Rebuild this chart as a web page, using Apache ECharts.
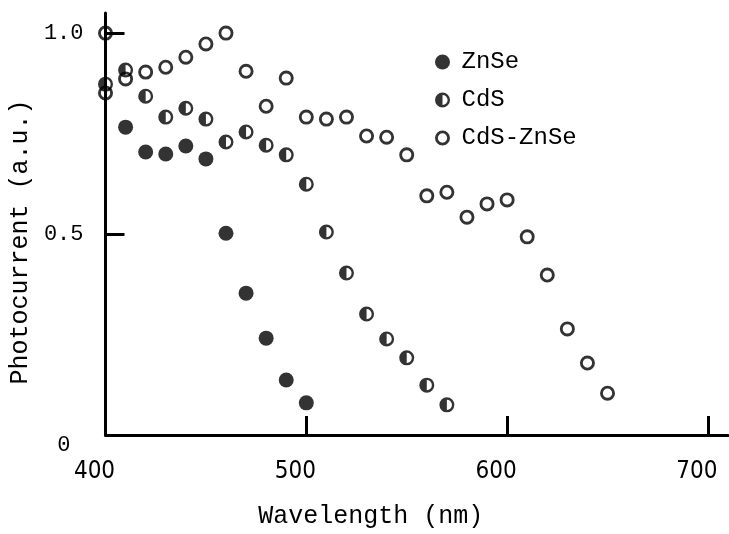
<!DOCTYPE html>
<html>
<head>
<meta charset="utf-8">
<title>Photocurrent spectra</title>
<script src="https://cdn.jsdelivr.net/npm/echarts@6/dist/echarts.min.js"></script>
<style>
  html, body { margin: 0; padding: 0; background: #fff; }
  #chart { width: 729px; height: 534px; }
</style>
</head>
<body>
<div id="chart"></div>
<script>
// wavelengths (nm) and photocurrent (a.u.)
const znseWavelength = [410, 420, 430, 440, 450, 460, 470, 480, 490, 500]
const znseValues = [0.766, 0.704, 0.699, 0.719, 0.687, 0.502, 0.353, 0.241, 0.137, 0.080]

const cdsWavelength = [400, 410, 420, 430, 440, 450, 460, 470, 480, 490, 500, 510, 520, 530, 540, 550, 560, 570]
const cdsValues = [0.873, 0.908, 0.843, 0.791, 0.813, 0.786, 0.729, 0.754, 0.721, 0.697, 0.624, 0.505, 0.403, 0.301, 0.239, 0.192, 0.124, 0.075]

const cdsZnseWavelength = [400, 400, 410, 420, 430, 440, 450, 460, 470, 480, 490, 500, 510, 520, 530, 540, 550, 560, 570, 580, 590, 600, 610, 620, 630, 640, 650]
const cdsZnseValues = [1.0, 0.851, 0.886, 0.903, 0.915, 0.940, 0.973, 1.0, 0.905, 0.818, 0.888, 0.791, 0.786, 0.791, 0.744, 0.741, 0.697, 0.595, 0.604, 0.542, 0.575, 0.585, 0.493, 0.398, 0.264, 0.179, 0.104]

const seriesNames = ['ZnSe', 'CdS', 'CdS-ZnSe']
const xTicks = [500, 600, 700]
const xLabels = [400, 500, 600, 700]
const yTicks = [0.5, 1.0]
const yLabels = [0, 0.5, 1.0]

// ring and half-filled ring markers
const ringPath = 'path://M10,0A10,10 0 1,1 10,20A10,10 0 1,1 10,0Z' +
  'M10,3.8A6.2,6.2 0 1,0 10,16.2A6.2,6.2 0 1,0 10,3.8Z'
const halfPath = 'path://M10,0A10,10 0 1,1 10,20A10,10 0 1,1 10,0Z' +
  'M10,3.2A6.8,6.8 0 1,0 10,16.8A6.8,6.8 0 1,0 10,3.2Z' +
  'M10,3.2A6.8,6.8 0 0,0 10,16.8Z'

const pairs = (xs, ys) => xs.map((x, i) => [x, ys[i]])

const mono = 'Liberation Mono, Courier New, monospace'
const narrow = 'Liberation Sans Narrow, DejaVu Sans Condensed, sans-serif'

const chart = echarts.init(document.getElementById('chart'))

const option = {
  animation: false,
  backgroundColor: '#fff',
  grid: {
    left: 105,
    right: 1,
    top: 13,
    bottom: 99
  },
  legend: {
    orient: 'vertical',
    left: 430,
    top: 45,
    itemWidth: 28,
    itemHeight: 15,
    itemGap: 14,
    data: seriesNames,
    textStyle: {
      fontFamily: mono,
      fontSize: 24,
      color: '#000'
    }
  },
  xAxis: {
    type: 'value',
    min: 400,
    max: 710,
    name: 'Wavelength (nm)',
    nameLocation: 'middle',
    nameGap: 69,
    nameTextStyle: {
      fontFamily: mono,
      fontSize: 25,
      color: '#000',
      padding: [0, 92, 0, 0]
    },
    axisLine: {
      lineStyle: { color: '#000', width: 3 }
    },
    axisTick: {
      inside: true,
      length: 19,
      customValues: xTicks,
      lineStyle: { color: '#000', width: 3 }
    },
    axisLabel: {
      customValues: xLabels,
      margin: 25,
      fontFamily: narrow,
      fontSize: 24,
      color: '#000',
      padding: [0, 22, 0, 0]
    },
    splitLine: { show: false }
  },
  yAxis: {
    type: 'value',
    min: 0,
    max: 1.05,
    name: 'Photocurrent (a.u.)',
    nameLocation: 'middle',
    nameGap: 70,
    nameTextStyle: {
      fontFamily: mono,
      fontSize: 25,
      color: '#000',
      padding: [0, 36, 0, 0]
    },
    axisLine: {
      lineStyle: { color: '#000', width: 3 }
    },
    axisTick: {
      inside: true,
      length: 19,
      customValues: yTicks,
      lineStyle: { color: '#000', width: 3 }
    },
    axisLabel: {
      customValues: yLabels,
      margin: 22,
      fontFamily: mono,
      fontSize: 22,
      color: '#000',
      formatter: v => (v === 0 ? '{z|0}' : v.toFixed(1)),
      rich: {
        z: {
          fontFamily: mono,
          fontSize: 22,
          color: '#000',
          padding: [20, 13, 0, 0]
        }
      }
    },
    splitLine: { show: false }
  },
  series: [
    {
      name: 'ZnSe',
      type: 'scatter',
      symbol: 'circle',
      symbolSize: 15,
      itemStyle: { color: '#000' },
      data: pairs(znseWavelength, znseValues)
    },
    {
      name: 'CdS',
      type: 'scatter',
      symbol: halfPath,
      symbolSize: 15,
      symbolKeepAspect: true,
      itemStyle: { color: '#000' },
      data: pairs(cdsWavelength, cdsValues)
    },
    {
      name: 'CdS-ZnSe',
      type: 'scatter',
      symbol: ringPath,
      symbolSize: 15,
      symbolKeepAspect: true,
      itemStyle: { color: '#000' },
      data: pairs(cdsZnseWavelength, cdsZnseValues)
    }
  ]
}

chart.setOption(option)
window.onresize = () => {
  chart.resize()
}
</script>
</body>
</html>
